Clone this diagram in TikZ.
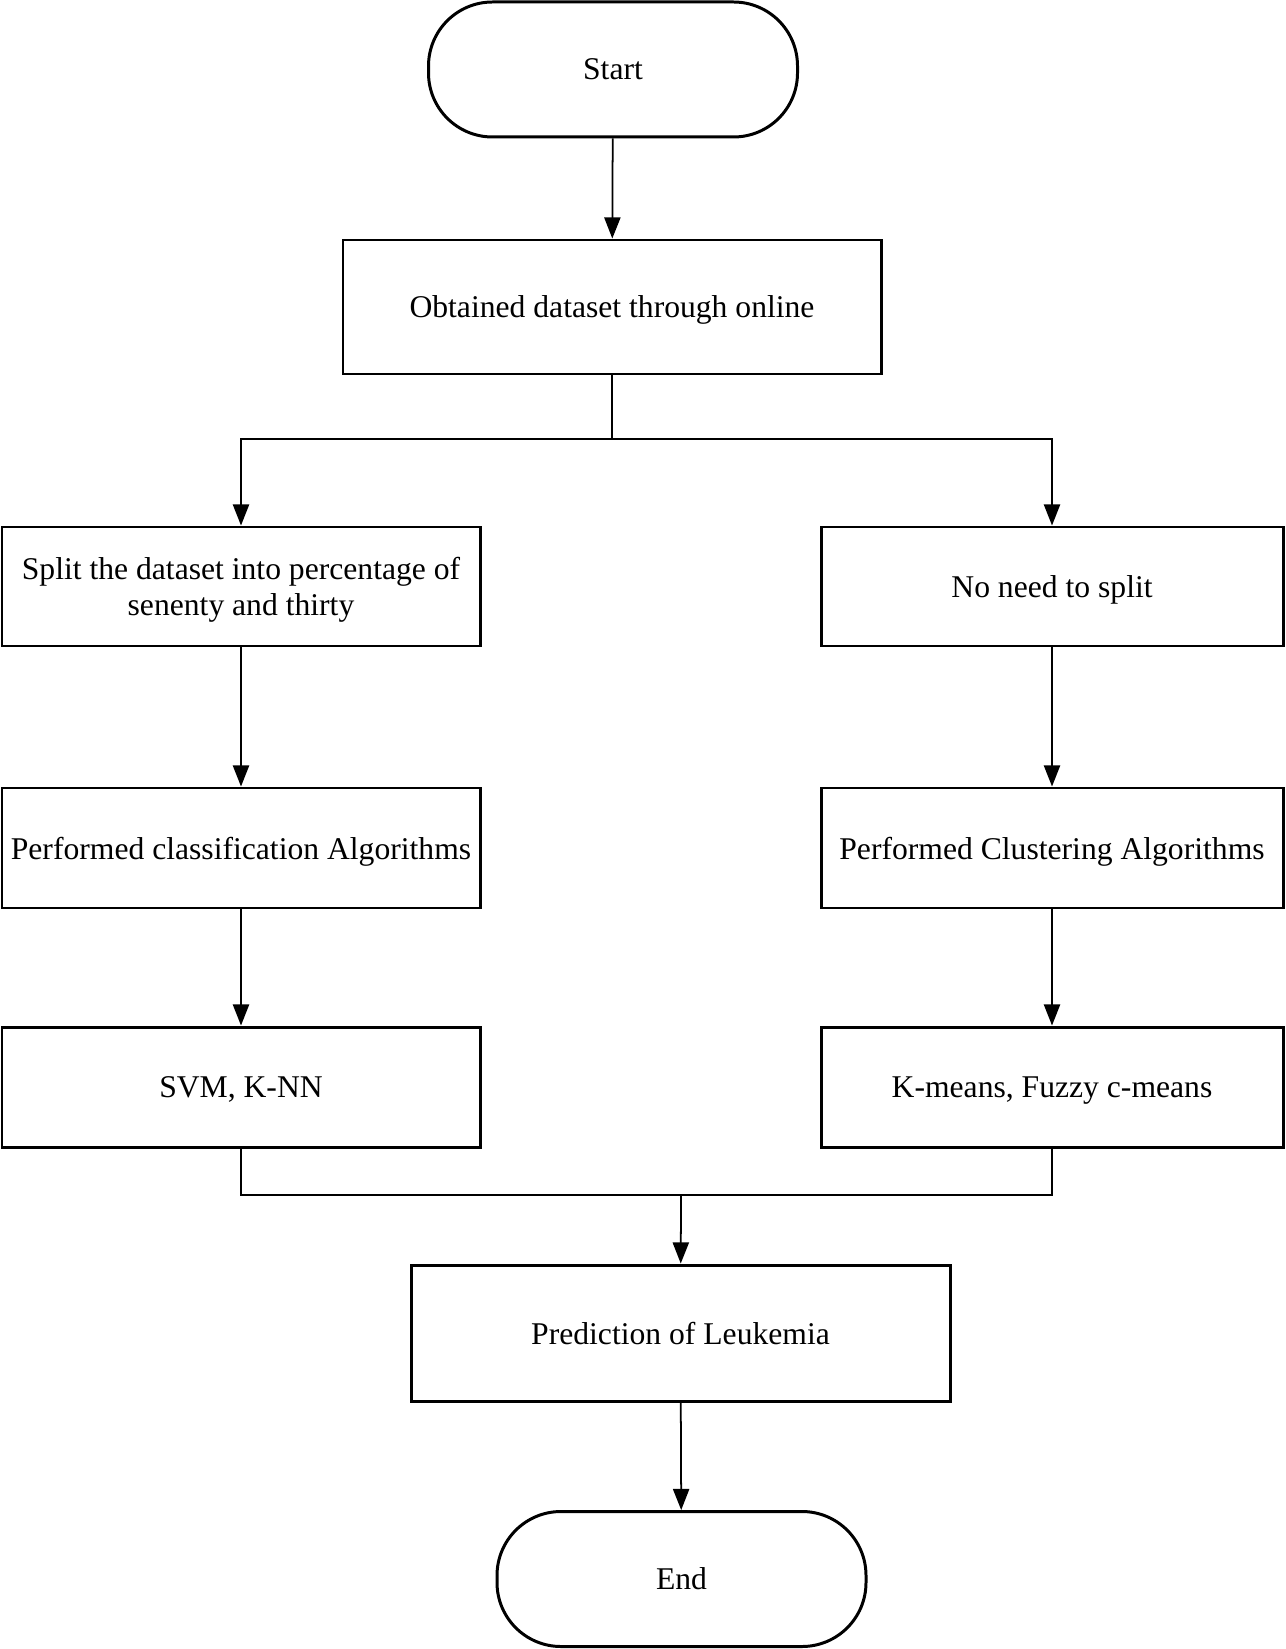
\documentclass[tikz,border=0pt]{standalone}
\usepackage{fontspec}
\setmainfont{Liberation Serif}
\usepackage{tikz}
\usetikzlibrary{positioning, arrows.meta, calc}

\begin{document}
\begin{tikzpicture}[>={Triangle[length=6pt, width=4.6pt]},
    box/.style={draw, line width=0.85pt, inner sep=0pt, align=center, text depth=0pt,
        font=\fontsize{9}{10.4}\selectfont},
    terminal/.style={box, rounded corners=0.64cm, minimum width=3.69cm, minimum height=1.35cm},
    flow/.style={line width=0.5pt}]
\useasboundingbox (0,0) rectangle (12.85,-16.49);

% top
\node[terminal] (start) at (6.13,-0.695) {Start};
\node[box, minimum width=5.38cm, minimum height=1.34cm] (obtain) at (6.12,-3.07) {Obtained dataset through online};

% left branch
\node[box, minimum width=4.78cm, minimum height=1.19cm] (split) at (2.41,-5.865)
    {Split the dataset into percentage of\\senenty and thirty};
\node[box, minimum width=4.78cm, minimum height=1.20cm] (classify) at (2.41,-8.48)
    {Performed classification Algorithms};
\node[box, minimum width=4.78cm, minimum height=1.20cm] (svm) at (2.41,-10.87) {SVM, K-NN};

% right branch
\node[box, minimum width=4.62cm, minimum height=1.19cm] (nosplit) at (10.52,-5.865) {No need to split};
\node[box, minimum width=4.62cm, minimum height=1.20cm] (cluster) at (10.52,-8.48)
    {Performed Clustering Algorithms};
\node[box, minimum width=4.62cm, minimum height=1.20cm] (kmeans) at (10.52,-10.87)
    {K-means, Fuzzy c-means};

% bottom
\node[box, minimum width=5.39cm, minimum height=1.36cm] (predict) at (6.805,-13.33) {Prediction of Leukemia};
\node[terminal] (end) at (6.815,-15.79) {End};

\coordinate (fork) at (6.12,-4.39);
\coordinate (join) at (6.81,-11.95);

\draw[flow, ->] (start) -- (obtain);
\draw[flow] (obtain) -- (fork);
\draw[flow, ->] (fork) -| (split);
\draw[flow, ->] (fork) -| (nosplit);
\draw[flow, ->] (split) -- (classify);
\draw[flow, ->] (classify) -- (svm);
\draw[flow, ->] (nosplit) -- (cluster);
\draw[flow, ->] (cluster) -- (kmeans);
\draw[flow] (svm) |- (join);
\draw[flow] (kmeans) |- (join);
\draw[flow, ->] (join) -- (predict);
\draw[flow, ->] (predict) -- (end);
\end{tikzpicture}
\end{document}
